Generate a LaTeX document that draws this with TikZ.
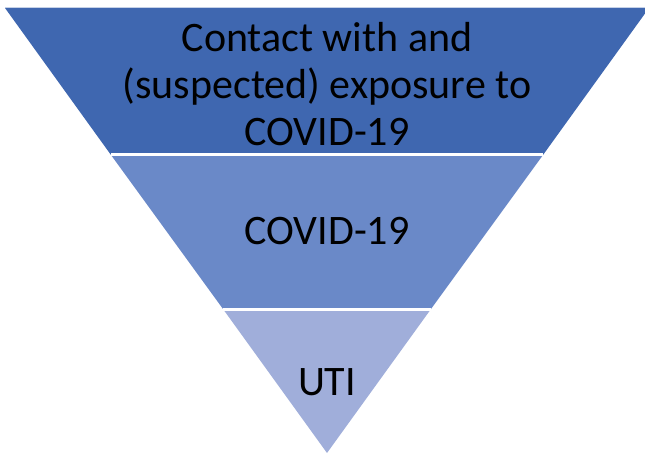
\documentclass[tikz,border=0pt]{standalone}
\usepackage{fontspec}
\setmainfont{Carlito}
\definecolor{bandA}{RGB}{63,103,176}
\definecolor{bandB}{RGB}{106,137,200}
\definecolor{bandC}{RGB}{160,174,218}
\tikzset{
  band/.style={draw=white, line width=3pt, line join=miter},
  lbl/.style={font=\fontsize{42}{47}\selectfont, text=black, align=center, inner sep=0pt}
}
\begin{document}
\begin{tikzpicture}[x=1pt,y=1pt]
\useasboundingbox (0,0) rectangle (645,453);
\clip (0,0) rectangle (645,453);
\coordinate (apex) at (327,0);
\coordinate (tl) at (5,445);
\coordinate (tr) at (649,445);
\coordinate (al) at (111,298);
\coordinate (ar) at (543,298);
\coordinate (bl) at (223,144);
\coordinate (br) at (431,144);
\fill[bandA] (tl) -- (tr) -- (ar) -- (al) -- cycle;
\fill[bandB] (al) -- (ar) -- (br) -- (bl) -- cycle;
\fill[bandC] (bl) -- (br) -- (apex) -- cycle;
\draw[white, line width=3pt] (al) -- (ar);
\draw[white, line width=3pt] (bl) -- (br);
\draw[white!70!bandA, line width=1pt] (tl) -- (tr);
\node[lbl] (top) at (327,369) {Contact with and\\(suspected) exposure to\\COVID-19};
\node[lbl] (mid) at (327,221.5) {COVID-19};
\node[lbl] (bot) at (327,71) {UTI};
\end{tikzpicture}
\end{document}
